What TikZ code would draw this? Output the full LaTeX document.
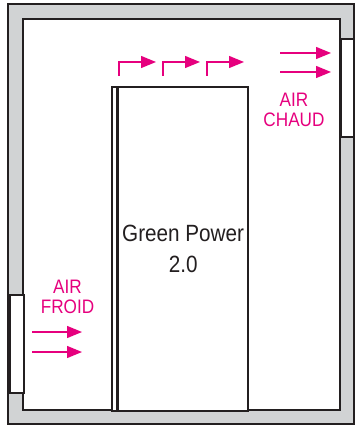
\documentclass[tikz,border=0pt]{standalone}
\usepackage{fontspec}
\setsansfont[FakeStretch=0.88]{Liberation Sans}
\usepackage{xcolor}
\usetikzlibrary{arrows.meta, positioning}
\definecolor{airpink}{RGB}{230,0,126}
\definecolor{wallgray}{RGB}{209,211,212}
\definecolor{inkdark}{RGB}{35,31,32}

\begin{document}
\begin{tikzpicture}[
    x=1pt, y=-1pt,
    font=\sffamily,
    wallbox/.style={draw=inkdark, line width=2pt, fill=wallgray},
    roombox/.style={draw=inkdark, line width=2pt, fill=white},
    ventbox/.style={rectangle, draw=inkdark, line width=1.8pt, fill=white, inner sep=0pt},
    cabinet/.style={rectangle, draw=inkdark, line width=1.7pt, fill=white, inner sep=0pt, align=center, text=inkdark, font=\sffamily\fontsize{23.5}{31}\selectfont},
    airflow/.style={draw=airpink, line width=1.3pt, -{Triangle[length=15pt, width=12pt]}},
    airlbl/.style={text=airpink, align=center, inner sep=0pt, font=\sffamily\fontsize{19.5}{20}\selectfont}
]
    \useasboundingbox (0,0) rectangle (358,427);

    % Murs et ouvertures
    \draw [wallbox] (8,4) rectangle (354,424);
    \draw [roombox] (23,19.5) rectangle (340,410);
    \node [ventbox, minimum width=13pt, minimum height=98pt, anchor=north west] (hotvent) at (340,38) {};
    \node [ventbox, minimum width=14pt, minimum height=98pt, anchor=north west] (coldvent) at (9,294) {};

    % Armoire
    \node [cabinet, minimum width=130pt, minimum height=324pt, anchor=north east] (greenpower) at (249,86) {Green Power\\2.0};
    \node [cabinet, minimum width=4.6pt, minimum height=324pt, anchor=north east] (greenside) at (greenpower.north west) {};

    % Textes
    \node [airlbl, anchor=base] (hotlbl) at (294,127) {AIR\\CHAUD};
    \node [airlbl, anchor=base] (coldlbl) at (67.5,313) {AIR\\FROID};

    % Flux d'air
    \foreach \i/\yy in {1/332, 2/352} {
        \coordinate (cold\i s) at (32,\yy);
        \coordinate (cold\i e) at (82,\yy);
        \draw [airflow] (cold\i s) -- (cold\i e);
    }
    \foreach \i/\yy in {1/53, 2/72} {
        \coordinate (hot\i s) at (280,\yy);
        \coordinate (hot\i e) at (331,\yy);
        \draw [airflow] (hot\i s) -- (hot\i e);
    }
    \foreach \i/\xx in {1/119, 2/163, 3/207} {
        \coordinate (up\i s) at (\xx,76);
        \coordinate (up\i e) at (\xx+37,62);
        \draw [airflow] (up\i s) |- (up\i e);
    }

\end{tikzpicture}
\end{document}
